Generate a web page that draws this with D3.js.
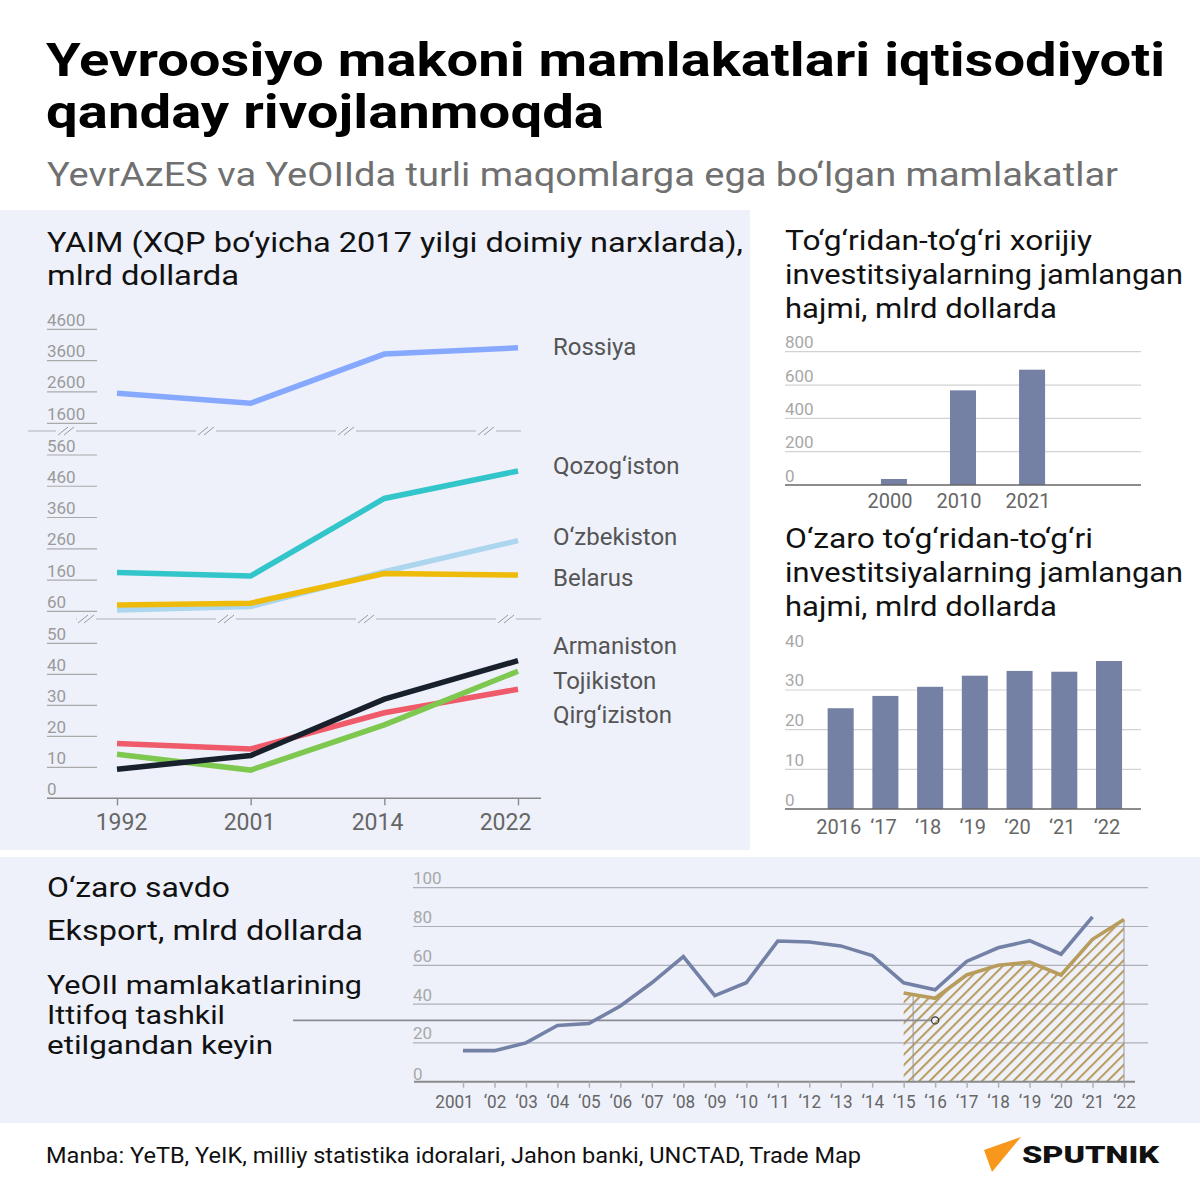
<!DOCTYPE html>
<html><head><meta charset="utf-8">
<script src="https://cdn.jsdelivr.net/npm/d3@7"></script>
<style>
body{margin:0;background:#fff}
svg{display:block}
text{font-family:Roboto,"Noto Sans",sans-serif}
</style>
</head><body>
<svg id="c" width="1200" height="1200"></svg>
<script>
// ---------- DATA ----------
const gdpYears = [1992, 2001, 2014, 2022];
const gdpRussia = [2560, 2240, 3810, 4010];
const gdpKazakhstan = [184, 173, 421, 509];
const gdpUzbekistan = [64, 75, 187, 286];
const gdpBelarus = [80, 86, 181, 176];
const gdpArmenia = [9.4, 13.8, 32, 44.4];
const gdpTajikistan = [14.2, 9.1, 23.7, 41];
const gdpKyrgyzstan = [17.7, 15.9, 27.6, 35.2];
const gdpTicksTop = [1600, 2600, 3600, 4600];
const gdpTicksMid = [60, 160, 260, 360, 460, 560];
const gdpTicksBot = [0, 10, 20, 30, 40, 50];
const gdpNames = ["Rossiya", "Qozog‘iston", "O‘zbekiston", "Belarus", "Armaniston", "Tojikiston", "Qirg‘iziston"];

const fdiYears = ["2000", "2010", "2021"];
const fdiValues = [36, 568, 692];
const fdiTicks = [0, 200, 400, 600, 800];

const mutualYears = ["2016", "‘17", "‘18", "‘19", "‘20", "‘21", "‘22"];
const mutualValues = [25.4, 28.5, 30.8, 33.6, 34.8, 34.6, 37.3];
const mutualTicks = [0, 10, 20, 30, 40];

const tradeYears = [2001, 2002, 2003, 2004, 2005, 2006, 2007, 2008, 2009, 2010, 2011,
                    2012, 2013, 2014, 2015, 2016, 2017, 2018, 2019, 2020, 2021, 2022];
const tradeLabels = ["2001", "‘02", "‘03", "‘04", "‘05", "‘06", "‘07", "‘08", "‘09", "‘10", "‘11",
                     "‘12", "‘13", "‘14", "‘15", "‘16", "‘17", "‘18", "‘19", "‘20", "‘21", "‘22"];
const exportAllYears = [2001, 2002, 2003, 2004, 2005, 2006, 2007, 2008, 2009, 2010, 2011,
                        2012, 2013, 2014, 2015, 2016, 2017, 2018, 2019, 2020, 2021];
const exportAll = [16, 16, 20, 29, 30, 39, 51, 64.5, 44.4, 51, 72.5, 72, 70, 65, 51, 47.4, 62, 69, 72.7, 65.7, 85];
const exportEaeuYears = [2015, 2016, 2017, 2018, 2019, 2020, 2021, 2022];
const exportEaeu = [45.7, 43, 55, 60, 61.6, 55, 73.4, 83.6];
const tradeTicks = [0, 20, 40, 60, 80, 100];
const unionMarkYear = 2015.3;
const annotYear = 2016;
const annotValue = 31.6;

// ---------- SETUP ----------
const svg = d3.select("#c");
const BG = "#eef1fa";
const fit = (sel, w) => {
  const n = sel.node();
  const cur = n.getComputedTextLength();
  if (Math.abs(cur - w) > 2) sel.attr("textLength", w).attr("lengthAdjust", "spacingAndGlyphs");
  return sel;
};
const txt = (x, y, s, size, opts = {}) => {
  const t = svg.append("text").attr("x", x).attr("y", y).text(s)
    .attr("font-size", size).attr("fill", opts.fill || "#111")
    .attr("font-weight", opts.weight || 400);
  if (opts.anchor) t.attr("text-anchor", opts.anchor);
  if (opts.family) t.attr("font-family", opts.family);
  if (opts.w) fit(t, opts.w);
  return t;
};

// backgrounds
svg.append("rect").attr("x", 0).attr("y", 0).attr("width", 1200).attr("height", 1200).attr("fill", "#fff");
svg.append("rect").attr("x", 0).attr("y", 210).attr("width", 750).attr("height", 640).attr("fill", BG);
svg.append("rect").attr("x", 0).attr("y", 857).attr("width", 1200).attr("height", 266).attr("fill", BG);

// header
txt(46, 76, "Yevroosiyo makoni mamlakatlari iqtisodiyoti", 46, {weight: 700, fill: "#000", w: 1119, family: "Liberation Sans, Arial, sans-serif"});
txt(46, 128, "qanday rivojlanmoqda", 46, {weight: 700, fill: "#000", w: 558, family: "Liberation Sans, Arial, sans-serif"});
txt(47, 186, "YevrAzES va YeOIIda turli maqomlarga ega bo‘lgan mamlakatlar", 34, {fill: "#707070", w: 1071});

// ---------- GDP CHART ----------
txt(47, 252, "YAIM (XQP bo‘yicha 2017 yilgi doimiy narxlarda),", 28, {w: 696});
txt(47, 285, "mlrd dollarda", 28, {w: 192});

const gx = d3.scalePoint().domain(gdpYears).range([117, 518]);
const gxLabel = d3.scalePoint().domain(gdpYears).range([121, 505]);
const yTop = d3.scaleLinear().domain([1600, 4600]).range([423.3, 329.3]);
const yMid = d3.scaleLinear().domain([60, 560]).range([611.3, 455]);
const yBot = d3.scaleLinear().domain([0, 50]).range([798.3, 643.3]);

const gGdp = svg.append("g");
function yTicks(scale, ticks, skipZero) {
  ticks.forEach(t => {
    const y = scale(t);
    if (!(skipZero && t === 0)) {
      gGdp.append("line").attr("x1", 47).attr("x2", 97).attr("y1", y).attr("y2", y)
        .attr("stroke", "#aaa").attr("stroke-width", 1.2);
    }
    gGdp.append("text").attr("x", 47).attr("y", y - 3.5).text(t)
      .attr("font-size", 17).attr("fill", "#9a9a9a");
  });
}
yTicks(yTop, gdpTicksTop);
yTicks(yMid, gdpTicksMid);
yTicks(yBot, gdpTicksBot, true);

// broken-axis lines
function breakLine(y, x0, x1, marks) {
  const gap = 10;
  let xs = x0;
  marks.forEach(m => {
    gGdp.append("line").attr("x1", xs).attr("x2", m - gap).attr("y1", y).attr("y2", y)
      .attr("stroke", "#cfd0d8").attr("stroke-width", 2);
    xs = m + gap;
    [-3, 3].forEach(dx => {
      gGdp.append("line").attr("x1", m + dx - 5).attr("y1", y + 4).attr("x2", m + dx + 5).attr("y2", y - 4)
        .attr("stroke", "#999").attr("stroke-width", 1);
    });
  });
  gGdp.append("line").attr("x1", xs).attr("x2", x1).attr("y1", y).attr("y2", y)
    .attr("stroke", "#cfd0d8").attr("stroke-width", 2);
}
breakLine(431, 28, 521, [66, 206, 346, 486]);
breakLine(619, 77, 541, [86, 226, 366, 506]);

// bottom axis
gGdp.append("line").attr("x1", 47).attr("x2", 541).attr("y1", 798.3).attr("y2", 798.3)
  .attr("stroke", "#8a8a8a").attr("stroke-width", 1.6);
const gAxis = gGdp.append("g").attr("transform", "translate(0,798.3)")
  .call(d3.axisBottom(gx).tickSize(7).tickPadding(8));
gAxis.select(".domain").remove();
gAxis.selectAll(".tick line").attr("stroke", "#8a8a8a").attr("stroke-width", 1.4);
gAxis.selectAll(".tick text").attr("font-size", 23).attr("fill", "#666")
  .attr("font-family", "Roboto, sans-serif")
  .attr("x", d => gxLabel(d) - gx(d));

const gdpSeries = [
  {vals: gdpRussia, y: yTop, color: "#86a9ff"},
  {vals: gdpUzbekistan, y: yMid, color: "#abd6ee"},
  {vals: gdpBelarus, y: yMid, color: "#efbb0a"},
  {vals: gdpKazakhstan, y: yMid, color: "#32c5c9"},
  {vals: gdpKyrgyzstan, y: yBot, color: "#ef5b6b"},
  {vals: gdpTajikistan, y: yBot, color: "#7ec850"},
  {vals: gdpArmenia, y: yBot, color: "#18202c"}
];
gdpSeries.forEach(s => {
  const line = d3.line().x((d, i) => gx(gdpYears[i])).y(d => s.y(d));
  gGdp.append("path").attr("d", line(s.vals)).attr("fill", "none")
    .attr("stroke", s.color).attr("stroke-width", 5.5).attr("stroke-linejoin", "miter");
});

const labelY = [355, 474, 545, 586, 654, 689, 723];
gdpNames.forEach((n, i) => txt(553, labelY[i], n, 24, {fill: "#555"}));

// ---------- FDI CHART ----------
txt(785, 250, "To‘g‘ridan-to‘g‘ri xorijiy", 28, {w: 307});
txt(785, 284, "investitsiyalarning jamlangan", 28, {w: 398});
txt(785, 318, "hajmi, mlrd dollarda", 28, {w: 272});

const fx = d3.scaleBand().domain(fdiYears).range([859.5, 1066.5]).paddingInner(0.623).paddingOuter(0.31);
const fy = d3.scaleLinear().domain([0, 800]).range([485, 351.7]);
const gF = svg.append("g");
fdiTicks.forEach(t => {
  if (t > 0) gF.append("line").attr("x1", 785).attr("x2", 1141).attr("y1", fy(t)).attr("y2", fy(t))
    .attr("stroke", "#d2d2d2").attr("stroke-width", 1.2);
  gF.append("text").attr("x", 785).attr("y", fy(t) - 3.5).text(t).attr("font-size", 17).attr("fill", "#a8a8a8");
});
gF.selectAll("rect.b").data(fdiValues).join("rect").attr("class", "b")
  .attr("x", (d, i) => fx(fdiYears[i])).attr("width", fx.bandwidth())
  .attr("y", d => fy(d)).attr("height", d => fy(0) - fy(d)).attr("fill", "#7581a4");
gF.append("line").attr("x1", 785).attr("x2", 1141).attr("y1", fy(0)).attr("y2", fy(0))
  .attr("stroke", "#666").attr("stroke-width", 1.5);
fdiYears.forEach(y => {
  gF.append("text").attr("x", fx(y) + fx.bandwidth() / 2 - 4).attr("y", 508).text(y)
    .attr("font-size", 20).attr("fill", "#666").attr("text-anchor", "middle");
});

// ---------- MUTUAL FDI CHART ----------
txt(785, 548, "O‘zaro to‘g‘ridan-to‘g‘ri", 28, {w: 308});
txt(785, 582, "investitsiyalarning jamlangan", 28, {w: 398});
txt(785, 616, "hajmi, mlrd dollarda", 28, {w: 272});

const mx = d3.scaleBand().domain(mutualYears).range([818.3, 1131.4]).paddingInner(0.418).paddingOuter(0.209);
const my = d3.scaleLinear().domain([0, 40]).range([809, 650.3]);
const gM = svg.append("g");
mutualTicks.forEach(t => {
  if (t > 0 && t < 40) gM.append("line").attr("x1", 785).attr("x2", 1141).attr("y1", my(t)).attr("y2", my(t))
    .attr("stroke", "#d2d2d2").attr("stroke-width", 1.2);
  gM.append("text").attr("x", 785).attr("y", my(t) - 3.5).text(t).attr("font-size", 17).attr("fill", "#a8a8a8");
});
gM.selectAll("rect.b").data(mutualValues).join("rect").attr("class", "b")
  .attr("x", (d, i) => mx(mutualYears[i])).attr("width", mx.bandwidth())
  .attr("y", d => my(d)).attr("height", d => my(0) - my(d)).attr("fill", "#7581a4");
gM.append("line").attr("x1", 785).attr("x2", 1141).attr("y1", my(0)).attr("y2", my(0))
  .attr("stroke", "#666").attr("stroke-width", 1.5);
mutualYears.forEach(y => {
  gM.append("text").attr("x", mx(y) + mx.bandwidth() / 2 - 2).attr("y", 834).text(y)
    .attr("font-size", 20).attr("fill", "#666").attr("text-anchor", "middle");
});

// ---------- TRADE CHART ----------
txt(47, 897, "O‘zaro savdo", 28, {w: 183});
txt(47, 940, "Eksport, mlrd dollarda", 28, {w: 316});
txt(47, 994, "YeOII mamlakatlarining", 25.5, {w: 315});
txt(47, 1024, "Ittifoq tashkil", 25.5, {w: 178});
txt(47, 1054, "etilgandan keyin", 25.5, {w: 226});

const tx = d3.scaleLinear().domain([2001, 2022]).range([463, 1124]);
const ty = d3.scaleLinear().domain([0, 100]).range([1081.7, 887.7]);
const gT = svg.append("g");

const defs = svg.append("defs");
const pat = defs.append("pattern").attr("id", "hatch").attr("patternUnits", "userSpaceOnUse")
  .attr("width", 7.4).attr("height", 7.4).attr("patternTransform", "rotate(45)");
pat.append("line").attr("x1", 1).attr("y1", 0).attr("x2", 1).attr("y2", 7.4)
  .attr("stroke", "#b89c5c").attr("stroke-width", 2);

tradeTicks.forEach(t => {
  if (t > 0) gT.append("line").attr("x1", 413).attr("x2", 1148).attr("y1", ty(t)).attr("y2", ty(t))
    .attr("stroke", "#aeb0b8").attr("stroke-width", 1.2);
  gT.append("text").attr("x", 413).attr("y", t > 0 ? ty(t) - 3.5 : ty(t) - 2).text(t)
    .attr("font-size", 17).attr("fill", "#a8a8a8");
});

// hatched area
const area = d3.area().x((d, i) => tx(exportEaeuYears[i])).y0(ty(0)).y1(d => ty(d));
gT.append("path").attr("d", area(exportEaeu)).attr("fill", "url(#hatch)");

// vertical markers
gT.append("line").attr("x1", tx(unionMarkYear)).attr("x2", tx(unionMarkYear))
  .attr("y1", ty(44.8)).attr("y2", ty(0)).attr("stroke", "#999").attr("stroke-width", 1);
gT.append("line").attr("x1", tx(2022)).attr("x2", tx(2022))
  .attr("y1", ty(exportEaeu[exportEaeu.length - 1])).attr("y2", ty(0)).attr("stroke", "#999").attr("stroke-width", 1);

// annotation line
gT.append("line").attr("x1", 293).attr("x2", tx(annotYear) - 4).attr("y1", ty(annotValue)).attr("y2", ty(annotValue))
  .attr("stroke", "#8c8c94").attr("stroke-width", 1.8);
gT.append("circle").attr("cx", tx(annotYear)).attr("cy", ty(annotValue)).attr("r", 3.6)
  .attr("fill", "none").attr("stroke", "#333").attr("stroke-width", 1.2);

// axis
gT.append("line").attr("x1", 414).attr("x2", 1135).attr("y1", ty(0)).attr("y2", ty(0))
  .attr("stroke", "#8a8a8a").attr("stroke-width", 2);
const tAxis = gT.append("g").attr("transform", `translate(0,${ty(0)})`)
  .call(d3.axisBottom(tx).tickValues(tradeYears).tickSize(6).tickPadding(7)
    .tickFormat((d, i) => tradeLabels[i]));
tAxis.select(".domain").remove();
tAxis.selectAll(".tick line").attr("stroke", "#b0b0b0").attr("stroke-width", 1.5);
tAxis.selectAll(".tick text").attr("font-size", 19).attr("fill", "#666")
  .attr("font-family", "Roboto, sans-serif")
  .attr("x", (d, i) => i === 0 ? -9 : 0)
  .each(function() { fit(d3.select(this), this.getComputedTextLength() * 0.9); });

// lines
const lAll = d3.line().x((d, i) => tx(exportAllYears[i])).y(d => ty(d));
gT.append("path").attr("d", lAll(exportAll)).attr("fill", "none").attr("stroke", "#7381a6").attr("stroke-width", 3.6);
const lE = d3.line().x((d, i) => tx(exportEaeuYears[i])).y(d => ty(d));
gT.append("path").attr("d", lE(exportEaeu)).attr("fill", "none").attr("stroke", "#b89c5c").attr("stroke-width", 3.6);

// ---------- FOOTER ----------
txt(46, 1163, "Manba: YeTB, YeIK, milliy statistika idoralari, Jahon banki, UNCTAD, Trade Map", 22, {w: 815});
svg.append("polygon").attr("points", "984,1150 1021,1137 992,1172").attr("fill", "#f7981c");
txt(1022, 1163, "SPUTNIK", 24, {weight: 900, fill: "#111", w: 137});
</script>
</body></html>
